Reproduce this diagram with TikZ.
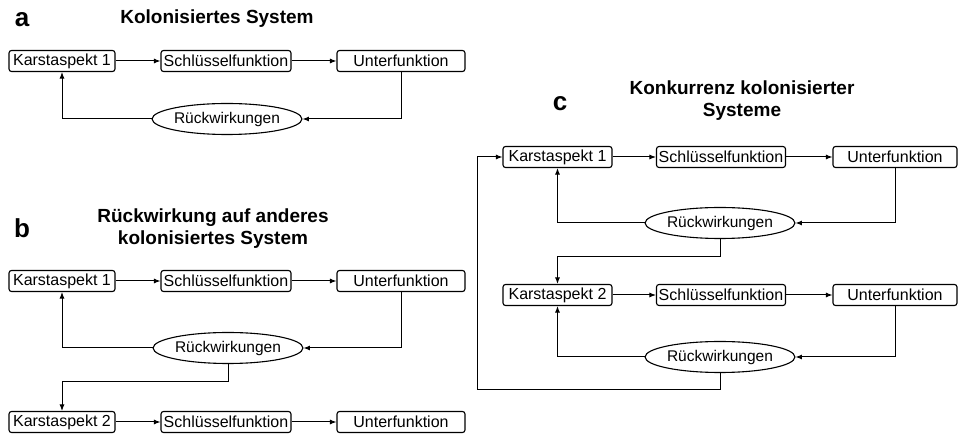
\documentclass[tikz,border=0pt]{standalone}
\usepackage{fontspec}
\setmainfont{Liberation Sans}
\usetikzlibrary{arrows.meta,shapes.geometric}
\begin{document}
\begin{tikzpicture}[x=1pt,y=-1pt,
  box/.style={draw,line width=1.1pt,rounded corners=2.5pt,minimum height=21pt,inner sep=0pt,font=\fontsize{16}{18}\selectfont},
  ell/.style={draw,ellipse,line width=1.1pt,minimum width=142pt,minimum height=31pt,inner sep=0pt,font=\fontsize{15.5}{18}\selectfont},
  arr/.style={-{Latex[length=6.5pt,width=5pt]},line width=1pt},
  ttl/.style={font=\bfseries\fontsize{19}{22}\selectfont,align=center},
  lbl/.style={font=\bfseries\fontsize{26}{28}\selectfont}]
\useasboundingbox (0,0) rectangle (959,435);
\fill[white] (0,0) rectangle (959,435);
% panel a
\node[lbl] (la) at (22,20) {a};
\node[ttl] (ta) at (217,19) {Kolonisiertes System};
\node[box,minimum width=106pt] (ka) at (62,61) {Karstaspekt 1};
\node[box,minimum width=130pt] (sa) at (226,61) {Schlüsselfunktion};
\node[box,minimum width=128pt] (ua) at (401,61) {Unterfunktion};
\node[ell] (ra) at (227,119) {Rückwirkungen};
\draw[arr] (ka) -- (sa);
\draw[arr] (sa) -- (ua);
\draw[arr] (ua.south) |- (ra.east);
\draw[arr] (ra.west) -| (ka.south);
% panel b
\node[lbl] (lb) at (22,228) {b};
\node[ttl] (tb) at (213,229) {Rückwirkung auf anderes\\kolonisiertes System};
\node[box,minimum width=106pt] (kb1) at (62,281) {Karstaspekt 1};
\node[box,minimum width=130pt] (sb1) at (226,281) {Schlüsselfunktion};
\node[box,minimum width=128pt] (ub1) at (401,281) {Unterfunktion};
\node[ell] (rb) at (228,348) {Rückwirkungen};
\node[box,minimum width=106pt] (kb2) at (62,422) {Karstaspekt 2};
\node[box,minimum width=130pt] (sb2) at (226,422) {Schlüsselfunktion};
\node[box,minimum width=128pt] (ub2) at (401,422) {Unterfunktion};
\coordinate (jb) at (228,382);
\draw[arr] (kb1) -- (sb1);
\draw[arr] (sb1) -- (ub1);
\draw[arr] (ub1.south) |- (rb.east);
\draw[arr] (rb.west) -| (kb1.south);
\draw[arr] (rb.south) -- (jb) -| (kb2.north);
\draw[arr] (kb2) -- (sb2);
\draw[arr] (sb2) -- (ub2);
% panel c
\node[lbl] (lc) at (560,104) {c};
\node[ttl] (tc) at (742,101) {Konkurrenz kolonisierter\\Systeme};
\node[box,minimum width=109pt] (kc1) at (557.5,157) {Karstaspekt 1};
\node[box,minimum width=129pt] (sc1) at (721,157) {Schlüsselfunktion};
\node[box,minimum width=124pt] (uc1) at (895,157) {Unterfunktion};
\node[ell] (rc1) at (720,223) {Rückwirkungen};
\node[box,minimum width=109pt] (kc2) at (557.5,295) {Karstaspekt 2};
\node[box,minimum width=129pt] (sc2) at (721,295) {Schlüsselfunktion};
\node[box,minimum width=124pt] (uc2) at (895,295) {Unterfunktion};
\node[ell] (rc2) at (720,357) {Rückwirkungen};
\coordinate (jc1) at (720,257);
\coordinate (jc2) at (720,390);
\coordinate (jc3) at (477,390);
\coordinate (jc4) at (477,157);
\draw[arr] (kc1) -- (sc1);
\draw[arr] (sc1) -- (uc1);
\draw[arr] (uc1.south) |- (rc1.east);
\draw[arr] (rc1.west) -| (kc1.south);
\draw[arr] (rc1.south) -- (jc1) -| (kc2.north);
\draw[arr] (kc2) -- (sc2);
\draw[arr] (sc2) -- (uc2);
\draw[arr] (uc2.south) |- (rc2.east);
\draw[arr] (rc2.west) -| (kc2.south);
\draw[arr] (rc2.south) -- (jc2) -- (jc3) -- (jc4) -- (kc1.west);
\end{tikzpicture}
\end{document}
